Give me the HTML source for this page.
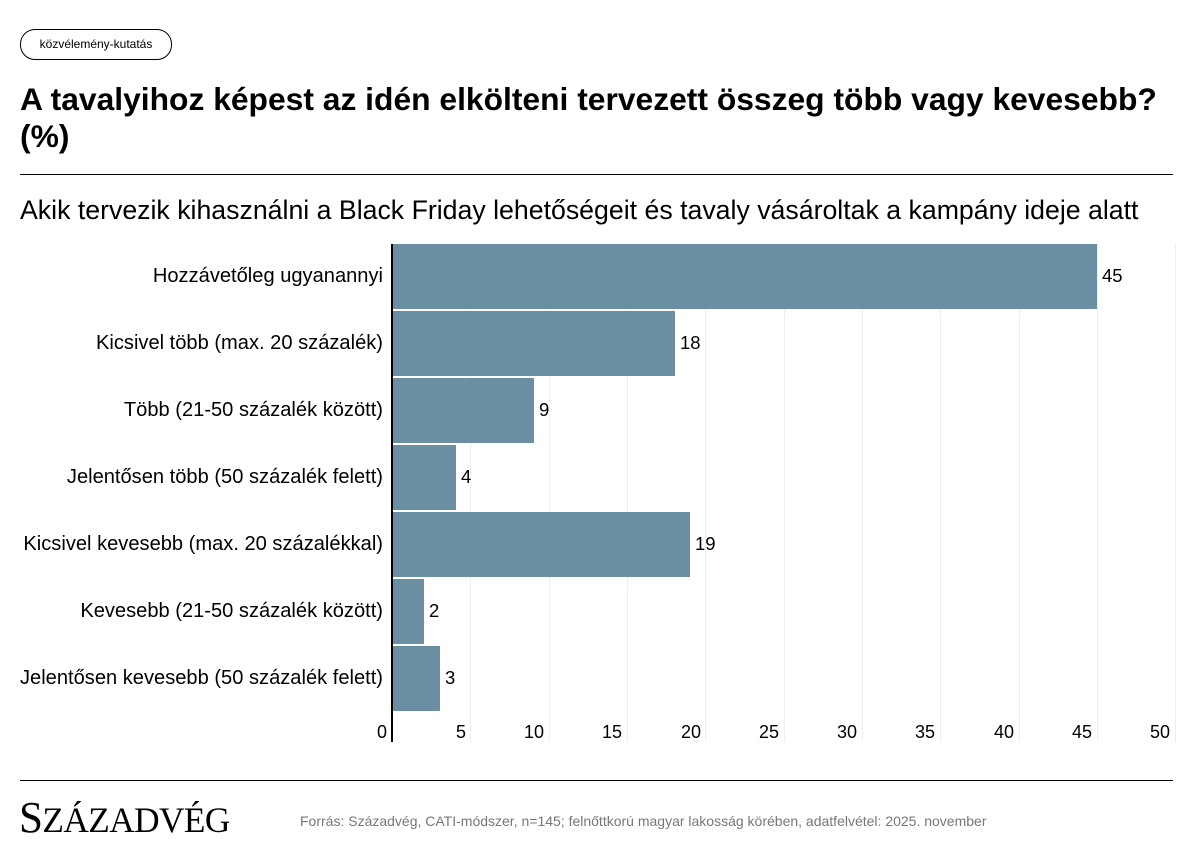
<!DOCTYPE html>
<html><head><meta charset="utf-8"><style>
body{margin:0;width:1193px;height:856px;background:#fff;font-family:"Liberation Sans",sans-serif;position:relative;overflow:hidden;color:#000}
.a{position:absolute;white-space:nowrap}
.lab{position:absolute;right:810px;font-size:20.1px;line-height:22px;text-align:right}
.bar{position:absolute;left:393px;height:65px;background:#6a8fa3}
.val{position:absolute;font-size:18.5px;line-height:22px}
.g{position:absolute;top:244px;height:498px;width:1px;background:#eee}
.t{position:absolute;top:721px;font-size:18px;line-height:22px;text-align:right;width:40px}
</style></head><body>
<div class="a" style="left:20px;top:29px;width:150px;height:29px;border:1px solid #000;border-radius:15px;font-size:12px;line-height:29px;text-align:center">közvélemény-kutatás</div>
<div class="a" style="left:20px;top:81px;font-size:31.8px;font-weight:bold;line-height:37px">A tavalyihoz képest az idén elkölteni tervezett összeg több vagy kevesebb?<br>(%)</div>
<div class="a" style="left:20px;top:174px;width:1153px;height:1px;background:#000"></div>
<div class="a" style="left:20px;top:195px;font-size:26.7px;line-height:30px">Akik tervezik kihasználni a Black Friday lehetőségeit és tavaly vásároltak a kampány ideje alatt</div>

<div class="g" style="left:470px"></div><div class="g" style="left:549px"></div><div class="g" style="left:627px"></div><div class="g" style="left:705px"></div><div class="g" style="left:784px"></div><div class="g" style="left:862px"></div><div class="g" style="left:940px"></div><div class="g" style="left:1019px"></div><div class="g" style="left:1097px"></div><div class="g" style="left:1175px"></div>

<div class="bar" style="top:244px;width:704px"></div>
<div class="bar" style="top:311px;width:282px"></div>
<div class="bar" style="top:378px;width:141px"></div>
<div class="bar" style="top:445px;width:63px"></div>
<div class="bar" style="top:512px;width:297px"></div>
<div class="bar" style="top:579px;width:31px"></div>
<div class="bar" style="top:646px;width:47px"></div>
<div class="a" style="left:391px;top:244px;width:2px;height:498px;background:#000"></div>

<div class="lab" style="top:265px">Hozzávetőleg ugyanannyi</div>
<div class="lab" style="top:332px">Kicsivel több (max. 20 százalék)</div>
<div class="lab" style="top:399px">Több (21-50 százalék között)</div>
<div class="lab" style="top:466px">Jelentősen több (50 százalék felett)</div>
<div class="lab" style="top:533px">Kicsivel kevesebb (max. 20 százalékkal)</div>
<div class="lab" style="top:600px">Kevesebb (21-50 százalék között)</div>
<div class="lab" style="top:667px">Jelentősen kevesebb (50 százalék felett)</div>

<div class="val" style="left:1102px;top:265px">45</div>
<div class="val" style="left:680px;top:332px">18</div>
<div class="val" style="left:539px;top:399px">9</div>
<div class="val" style="left:461px;top:466px">4</div>
<div class="val" style="left:695px;top:533px">19</div>
<div class="val" style="left:429px;top:600px">2</div>
<div class="val" style="left:445px;top:667px">3</div>

<div class="t" style="left:347px">0</div><div class="t" style="left:426px">5</div><div class="t" style="left:504px">10</div><div class="t" style="left:582px">15</div><div class="t" style="left:661px">20</div><div class="t" style="left:739px">25</div><div class="t" style="left:817px">30</div><div class="t" style="left:895px">35</div><div class="t" style="left:974px">40</div><div class="t" style="left:1052px">45</div><div class="t" style="left:1130px">50</div>

<div class="a" style="left:20px;top:780px;width:1153px;height:1px;background:#000"></div>
<div class="a" style="left:19px;top:796px;font-family:'Liberation Serif',serif;font-size:44px;line-height:44px;transform:scaleX(0.98);transform-origin:left top;letter-spacing:-0.6px">S<span style="font-size:36px">ZÁZADVÉG</span></div>
<div class="a" style="left:300px;top:813px;font-size:14px;color:#777">Forrás: Századvég, CATI-módszer, n=145; felnőttkorú magyar lakosság körében, adatfelvétel: 2025. november</div>
</body></html>
